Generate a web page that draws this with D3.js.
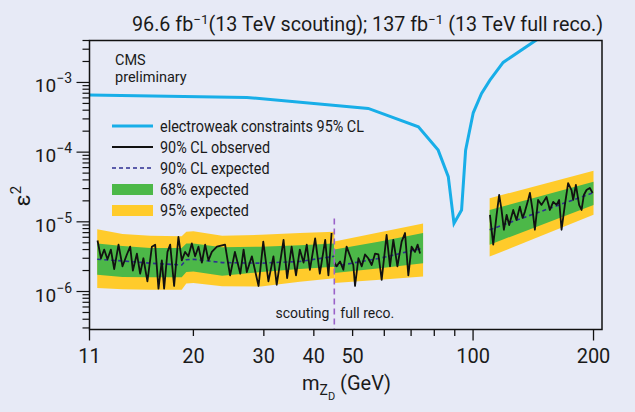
<!DOCTYPE html>
<html><head><meta charset="utf-8">
<script src="https://cdn.jsdelivr.net/npm/d3@7"></script>
<style>
body{margin:0;background:#e7eaf6;}
svg{display:block;}
text{font-family:Roboto,"Liberation Sans",sans-serif;fill:#1a1a1a;}
</style>
</head><body>
<svg id="c" width="635" height="412"></svg>
<script>
// ---------- data ----------
const ewMass = [11, 27.2, 54.7, 73, 81.8, 86.7, 89.6, 93.6, 95.8, 100.1, 105, 110.2, 118.9, 142.7, 170];
const ewEps  = [6.6e-4, 6.1e-4, 4.24e-4, 2.31e-4, 1.07e-4, 4.45e-5, 9.5e-6, 1.48e-5, 1.07e-4, 3.67e-4, 6.95e-4, 1.08e-3, 1.94e-3, 3.94e-3, 7.5e-3];

const scoutMass = [11.52,11.75,11.97,12.20,12.44,12.68,13.0,13.30,13.64,13.90,14.12,14.45,14.72,15.0,15.35,15.75,16.05,16.36,16.68,16.90,17.23,17.50,17.90,18.35,18.71,19.07,19.43,19.82,20.2,20.59,21.0,21.4,21.81,22.24,
  22.9,24.0,24.7,25.4,26.2,26.7,27.2,28.0,29.1,29.9,30.8,31.7,32.3,33.6,34.3,35.2,36.1,36.9,37.7,38.4,39.1,40.3,41.4,42.7,43.5,44.3];
const scoutObs = [5.4e-6,3.0e-6,4.0e-6,2.9e-6,4.0e-6,2.1e-6,4.7e-6,2.3e-6,3.4e-6,4.4e-6,2.0e-6,3.5e-6,1.8e-6,3.0e-6,1.4e-6,4.4e-6,4.7e-6,1.1e-6,2.8e-6,1.1e-6,3.7e-6,4.7e-6,1.2e-6,6.1e-6,2.8e-6,3.7e-6,3.2e-6,4.9e-6,3.2e-6,4.4e-6,2.6e-6,4.7e-6,2.8e-6,3.7e-6,
  4.4e-6,4.7e-6,1.7e-6,3.7e-6,1.8e-6,4.0e-6,1.9e-6,3.2e-6,1.2e-6,5.2e-6,1.4e-6,3.2e-6,1.25e-6,5.5e-6,1.56e-6,4.4e-6,1.7e-6,4.0e-6,2.6e-6,4.7e-6,2.05e-6,5.8e-6,1.8e-6,5.5e-6,1.7e-6,6.9e-6];

const reco1Mass = [45.0,45.6,46.5,47.4,48.3,49.3,50.2,50.7,51.7,52.7,53.7,54.7,55.8,56.9,58.0,59.1,60.8,62.0,63.2,64.7,66.3,67.6,68.9,70.2,71.6,72.7,73.7];
const reco1Obs  = [2.6e-6,2.3e-6,2.7e-6,2.05e-6,4.4e-6,3.2e-6,2.4e-6,1.2e-6,3.0e-6,2.3e-6,3.4e-6,3.0e-6,2.4e-6,3.5e-6,3.4e-6,1.47e-6,6.5e-6,2.3e-6,5.5e-6,2.3e-6,5.2e-6,6.9e-6,1.7e-6,4.4e-6,3.7e-6,4.7e-6,3.5e-6];

const reco2Mass = [110.2,112.3,114.5,116.2,117.8,119.4,121.3,123.1,126.0,128.4,130.9,133.0,134.7,137.3,138.7,140.8,142.7,145.4,148.3,152.6,155.6,158.6,161.7,164.1,166.4,169.6,172.8,176.2,177.9,180.7,184.1,186.7,189.2,192.1,195.8,198.9];
const reco2Obs  = [1.26e-5,4.7e-6,1.26e-5,2.43e-5,1.48e-5,7.7e-6,1.26e-5,9.0e-6,1.48e-5,1.065e-5,1.65e-5,1.14e-5,1.39e-5,2.06e-5,2.6e-5,1.48e-5,7.7e-6,2.06e-5,1.75e-5,2.27e-5,1.48e-5,1.93e-5,1.75e-5,2.06e-5,7.7e-6,1.75e-5,3.6e-5,2.86e-5,2.06e-5,3.38e-5,1.75e-5,1.48e-5,2.43e-5,2.86e-5,3.06e-5,2.6e-5];

// expected limit and bands
const scoutBandMass = [11.5,13.3,15.6,18.7,19.2,20.0,23.6,29.5,36.9,45.0];
const scoutExp  = [2.9e-6,2.75e-6,2.55e-6,2.4e-6,2.85e-6,2.9e-6,2.6e-6,2.55e-6,2.7e-6,3.2e-6];
const scoutG68Lo = [1.74e-6,1.62e-6,1.6e-6,1.6e-6,1.9e-6,1.93e-6,1.68e-6,1.9e-6,2.1e-6,2.26e-6];
const scoutG68Hi = [4.9e-6,4.5e-6,4.2e-6,4.2e-6,4.9e-6,4.9e-6,4.3e-6,4.4e-6,4.6e-6,4.9e-6];
const scoutY95Lo = [1.12e-6,1.08e-6,1.06e-6,1.06e-6,1.3e-6,1.32e-6,1.19e-6,1.18e-6,1.38e-6,1.55e-6];
const scoutY95Hi = [7.8e-6,6.7e-6,6.3e-6,6.2e-6,7.2e-6,7.3e-6,6.3e-6,6.5e-6,6.9e-6,7.2e-6];

const reco1BandMass = [45.0,58.5,75.0];
const reco1Exp  = [2.3e-6,3.0e-6,4.2e-6];
const reco1G68Lo = [1.84e-6,2.16e-6,2.55e-6];
const reco1G68Hi = [4.0e-6,5.2e-6,6.9e-6];
const reco1Y95Lo = [1.32e-6,1.47e-6,1.64e-6];
const reco1Y95Hi = [5.2e-6,7.1e-6,9.5e-6];

const reco2BandMass = [110,200];
const reco2Exp  = [7.7e-6,2.62e-5];
const reco2G68Lo = [4.7e-6,1.75e-5];
const reco2G68Hi = [1.48e-5,3.77e-5];
const reco2Y95Lo = [3.17e-6,1.26e-5];
const reco2Y95Hi = [2.18e-5,5.4e-5];

const xTickValues = [11,20,30,40,50,60,70,80,90,100,200];
const xTickLabels = ["11","20","30","40","50","","","","","100","200"];
const yDecades = [-6,-5,-4,-3];
const boundaryMass = 45;

// ---------- drawing ----------
const svg = d3.select("#c");
const L=89.5, R=602, T=40.5, B=329.5;
svg.append("rect").attr("width",635).attr("height",412).attr("fill","#e7eaf6");

const x = d3.scaleLog().domain([11,210]).range([L,R]);
const y = d3.scaleLog().domain([2.85e-7,4e-3]).range([B,T]);

svg.append("defs").append("clipPath").attr("id","clip")
  .append("rect").attr("x",L).attr("y",T).attr("width",R-L).attr("height",B-T);
const plot = svg.append("g").attr("clip-path","url(#clip)");

function zipBand(m, lo, hi){ return m.map((v,i)=>({m:v, lo:lo[i], hi:hi[i]})); }
const area = d3.area().x(d=>x(d.m)).y0(d=>y(d.lo)).y1(d=>y(d.hi));
const line = d3.line().x(d=>x(d[0])).y(d=>y(d[1]));

const bands = [
  [scoutBandMass,scoutExp,scoutG68Lo,scoutG68Hi,scoutY95Lo,scoutY95Hi],
  [reco1BandMass,reco1Exp,reco1G68Lo,reco1G68Hi,reco1Y95Lo,reco1Y95Hi],
  [reco2BandMass,reco2Exp,reco2G68Lo,reco2G68Hi,reco2Y95Lo,reco2Y95Hi]
];
bands.forEach(b=>{
  plot.append("path").attr("d",area(zipBand(b[0],b[4],b[5]))).attr("fill","#ffcb2b");
  plot.append("path").attr("d",area(zipBand(b[0],b[2],b[3]))).attr("fill","#4cb848");
});
bands.forEach(b=>{
  plot.append("path").attr("d",line(b[0].map((m,i)=>[m,b[1][i]])))
    .attr("fill","none").attr("stroke","#2e2e92").attr("stroke-width",1.6).attr("stroke-dasharray","4,3");
});
[[scoutMass,scoutObs],[reco1Mass,reco1Obs],[reco2Mass,reco2Obs]].forEach(s=>{
  plot.append("path").attr("d",line(s[0].map((m,i)=>[m,s[1][i]])))
    .attr("fill","none").attr("stroke","#111").attr("stroke-width",1.8).attr("stroke-linejoin","round");
});
plot.append("path").attr("d",line(ewMass.map((m,i)=>[m,ewEps[i]])))
  .attr("fill","none").attr("stroke","#18aee8").attr("stroke-width",3);

// boundary line
svg.append("line").attr("x1",x(boundaryMass)).attr("x2",x(boundaryMass))
  .attr("y1",y(7e-6)-14).attr("y2",B)
  .attr("stroke","#9a62c8").attr("stroke-width",1.6).attr("stroke-dasharray","6,4");
svg.append("text").attr("x",x(boundaryMass)-5).attr("y",318).attr("text-anchor","end")
  .attr("font-size",14).text("scouting");
svg.append("text").attr("x",x(boundaryMass)+6).attr("y",318)
  .attr("font-size",14).text("full reco.");

// frame
svg.append("rect").attr("x",L).attr("y",T).attr("width",R-L).attr("height",B-T)
  .attr("fill","none").attr("stroke","#111").attr("stroke-width",1.5);

// x ticks
const gx = svg.append("g");
xTickValues.forEach((v,i)=>{
  const long = (v===11||v===100||v===200);
  gx.append("line").attr("x1",x(v)).attr("x2",x(v)).attr("y1",B).attr("y2",B+(long?11:6.5))
    .attr("stroke","#111").attr("stroke-width",1.3);
  if(xTickLabels[i]) gx.append("text").attr("x",x(v)).attr("y",363).attr("text-anchor","middle")
    .attr("font-size",20).text(xTickLabels[i]);
});
// y ticks
const gy = svg.append("g");
y.ticks(40).forEach(v=>{
  const e = Math.log10(v);
  const major = Math.abs(e-Math.round(e))<1e-9;
  gy.append("line").attr("x1",L-(major?13:7)).attr("x2",L).attr("y1",y(v)).attr("y2",y(v))
    .attr("stroke","#111").attr("stroke-width",1.2);
});
yDecades.forEach(e=>{
  const t = gy.append("text").attr("x",72).attr("y",y(Math.pow(10,e))+10).attr("text-anchor","end").attr("font-size",19);
  t.append("tspan").text("10");
  t.append("tspan").attr("dy",-9).attr("font-size",14).text("\u2212"+(-e));
});

// axis titles
const xt = svg.append("text").attr("x",302).attr("y",390).attr("font-size",20);
xt.append("tspan").text("m");
xt.append("tspan").attr("dy",5).attr("font-size",14).text("Z");
xt.append("tspan").attr("dy",5).attr("font-size",11).text("D");
xt.append("tspan").attr("dy",-10).attr("font-size",20).text(" (GeV)");

const yt = svg.append("text").attr("transform","translate(30,196) rotate(-90)").attr("text-anchor","middle").attr("font-size",22);
yt.append("tspan").text("\u03b5");
yt.append("tspan").attr("dy",-9).attr("font-size",15).text("2");

// title
const tt = svg.append("text").attr("x",603).attr("y",31).attr("text-anchor","end").attr("font-size",19.7);
tt.append("tspan").text("96.6 fb");
tt.append("tspan").attr("dy",-7).attr("font-size",13.5).text("\u22121");
tt.append("tspan").attr("dy",7).text("(13 TeV scouting); 137 fb");
tt.append("tspan").attr("dy",-7).attr("font-size",13.5).text("\u22121");
tt.append("tspan").attr("dy",7).text(" (13 TeV full reco.)");

// CMS label
svg.append("text").attr("x",115).attr("y",65).attr("font-size",14.5).text("CMS");
svg.append("text").attr("x",115).attr("y",82).attr("font-size",14.5).text("preliminary");

// legend
const lg = svg.append("g");
const lx0=112, lx1=153, tx=160;
const rows=[126,147,168,189.5,210.5];
lg.append("line").attr("x1",lx0).attr("x2",lx1).attr("y1",rows[0]).attr("y2",rows[0]).attr("stroke","#18aee8").attr("stroke-width",3);
lg.append("line").attr("x1",lx0).attr("x2",lx1).attr("y1",rows[1]).attr("y2",rows[1]).attr("stroke","#111").attr("stroke-width",1.8);
lg.append("line").attr("x1",lx0).attr("x2",lx1).attr("y1",rows[2]).attr("y2",rows[2]).attr("stroke","#2e2e92").attr("stroke-width",1.6).attr("stroke-dasharray","4,3");
lg.append("rect").attr("x",lx0).attr("y",rows[3]-5.5).attr("width",lx1-lx0).attr("height",11).attr("fill","#4cb848");
lg.append("rect").attr("x",lx0).attr("y",rows[4]-5.5).attr("width",lx1-lx0).attr("height",11).attr("fill","#ffcb2b");
const legTexts=["electroweak constraints 95% CL","90% CL observed","90% CL expected","68% expected","95% expected"];
legTexts.forEach((s,i)=>lg.append("text")
  .attr("transform",`translate(${tx},${rows[i]+5.5}) scale(0.9,1)`)
  .attr("font-size",16).text(s));
</script>
</body></html>
